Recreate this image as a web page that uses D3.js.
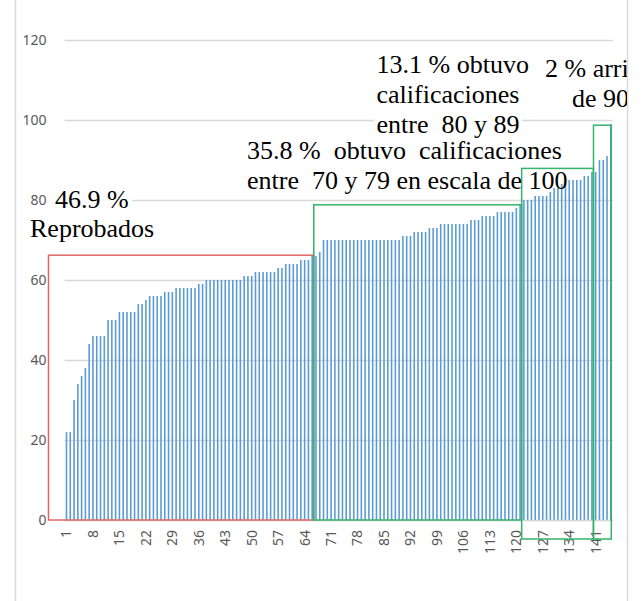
<!DOCTYPE html>
<html>
<head>
<meta charset="utf-8">
<script src="https://cdn.jsdelivr.net/npm/d3@7/dist/d3.min.js"></script>
<style>
body { margin: 0; background: #fff; }
text { white-space: pre; }
</style>
</head>
<body>
<svg width="641" height="601"></svg>
<script>
// calificaciones ordenadas de menor a mayor (145 alumnos)
var scores = [
  22,22,30,34,36,38,44,46,46,46,
  46,50,50,50,52,52,52,52,52,54,
  54,55,56,56,56,56,57,57,57,58,
  58,58,58,58,58,59,59,60,60,60,
  60,60,60,60,60,60,60,61,61,61,
  62,62,62,62,62,62,63,63,64,64,
  64,64,65,65,65,66,66,67,70,70,
  70,70,70,70,70,70,70,70,70,70,
  70,70,70,70,70,70,70,70,70,71,
  71,71,72,72,72,72,73,73,73,74,
  74,74,74,74,74,74,74,75,75,75,
  76,76,76,76,77,77,77,77,77,78,
  79,80,80,80,81,81,81,81,82,83,
  83,84,84,85,85,85,85,86,86,87,
  87,90,90,91,99
];
var yTicks = [0, 20, 40, 60, 80, 100, 120];
var xTickLabels = ["1","8","15","22","29","36","43","50","57","64","71","78","85","92","99","106","113","120","127","134","141"];

// rangos marcados: [primer alumno, ultimo alumno] y altura del recuadro (escala de 100)
var groupRanges = [[1, 66], [67, 121], [122, 140], [141, 145]];
var groupTops = [66.2, 78.8, 87.9, 98.7];
var noteReprobados = ["46.9 %", "Reprobados"];
var note70 = ["35.8 %  obtuvo  calificaciones", "entre  70 y 79 en escala de 100"];
var note80 = ["13.1 % obtuvo", "calificaciones", "entre  80 y 89"];
var note90 = ["2 % arriba", "de 90"];

var svg = d3.select("svg"),
    plotLeft = 64.6, plotRight = 612.7, plotTop = 40, plotBottom = 520;

var categories = scores.map(function(d, i) { return String(i + 1); });

var x = d3.scaleBand()
    .domain(categories)
    .range([plotLeft, plotRight])
    .paddingInner(0.58)
    .paddingOuter(0.29);

var y = d3.scaleLinear()
    .domain([0, 120])
    .range([plotBottom, plotTop]);

var cx = function(n) { return x(String(n)) + x.bandwidth() / 2; };

svg.append("defs").append("clipPath").attr("id", "area")
  .append("rect").attr("x", 15).attr("y", 0).attr("width", 612).attr("height", 601);

// borde del area del grafico
svg.append("line").attr("x1", 15.5).attr("x2", 15.5).attr("y1", 0).attr("y2", 601)
    .attr("stroke", "#d9d9d9").attr("stroke-width", 1.5);
svg.append("line").attr("x1", 627.5).attr("x2", 627.5).attr("y1", 0).attr("y2", 601)
    .attr("stroke", "#d9d9d9").attr("stroke-width", 1.5);

// eje y con lineas de cuadricula
var yAxis = svg.append("g")
    .attr("transform", "translate(" + plotLeft + ",0)")
    .call(d3.axisLeft(y).tickValues(yTicks).tickSize(-(plotRight - plotLeft)).tickPadding(18));
yAxis.select(".domain").remove();
yAxis.selectAll("line").attr("stroke", "#d9d9d9").attr("stroke-width", 1.3);
yAxis.selectAll("text")
    .attr("fill", "#595959")
    .style("font-family", "'Noto Sans', sans-serif")
    .style("font-size", "14px");

// barras
svg.append("g").selectAll("rect")
    .data(scores)
  .enter().append("rect")
    .attr("x", function(d, i) { return x(categories[i]); })
    .attr("y", function(d) { return y(d); })
    .attr("width", x.bandwidth())
    .attr("height", function(d) { return y(0) - y(d); })
    .attr("fill", "#5b9bd5");

// eje x
var xAxis = svg.append("g")
    .attr("transform", "translate(0," + plotBottom + ")")
    .call(d3.axisBottom(x).tickValues(xTickLabels).tickSize(0).tickSizeOuter(0));
xAxis.select(".domain").attr("stroke", "#d9d9d9").attr("stroke-width", 1.3);
xAxis.selectAll("text")
    .attr("fill", "#595959")
    .attr("transform", "rotate(-90)")
    .attr("text-anchor", "end")
    .attr("x", -10)
    .attr("y", 0)
    .attr("dy", "0.35em")
    .style("font-family", "'Noto Sans', sans-serif")
    .style("font-size", "14px");

// cuadros de texto
var notes = svg.append("g").attr("clip-path", "url(#area)")
    .style("font-family", "'Liberation Serif', 'Times New Roman', serif")
    .style("font-size", "26px")
    .attr("fill", "#000");

notes.append("rect").attr("x", 52).attr("y", 187).attr("width", 80).attr("height", 26).attr("fill", "#fff");
notes.append("rect").attr("x", 374).attr("y", 50).attr("width", 148).attr("height", 90).attr("fill", "#fff");

function addNote(lines, x0, y0, lh, xs) {
  lines.forEach(function(t, i) {
    notes.append("text")
        .attr("x", xs ? xs[i] : x0)
        .attr("y", y0 + i * lh)
        .text(t);
  });
}
addNote(noteReprobados, 0, 208, 29, [55, 30]);
addNote(note70, 247, 159, 30);
addNote(note80, 376.5, 73, 30);
addNote(note90, 0, 77, 30, [545, 572]);

// recuadros de los rangos
var boxColors = ["#e06666", "#33b36b", "#33b36b", "#33b36b"];
var boxes = groupRanges.map(function(r, i) {
  return {
    x0: i === 0 ? 48.5 : cx(r[0]) - 2.2,
    x1: i === groupRanges.length - 1 ? cx(r[1]) + 0.5 : cx(r[1]) + 1.5,
    top: y(groupTops[i]),
    bot: i < 2 ? y(0) : y(0) + 19,
    color: boxColors[i]
  };
});
svg.append("g").selectAll("rect")
    .data(boxes)
  .enter().append("rect")
    .attr("x", function(d) { return d.x0; })
    .attr("y", function(d) { return d.top; })
    .attr("width", function(d) { return d.x1 - d.x0; })
    .attr("height", function(d) { return d.bot - d.top; })
    .attr("fill", "none")
    .attr("stroke", function(d) { return d.color; })
    .attr("stroke-width", 1.5);
</script>
</body>
</html>
